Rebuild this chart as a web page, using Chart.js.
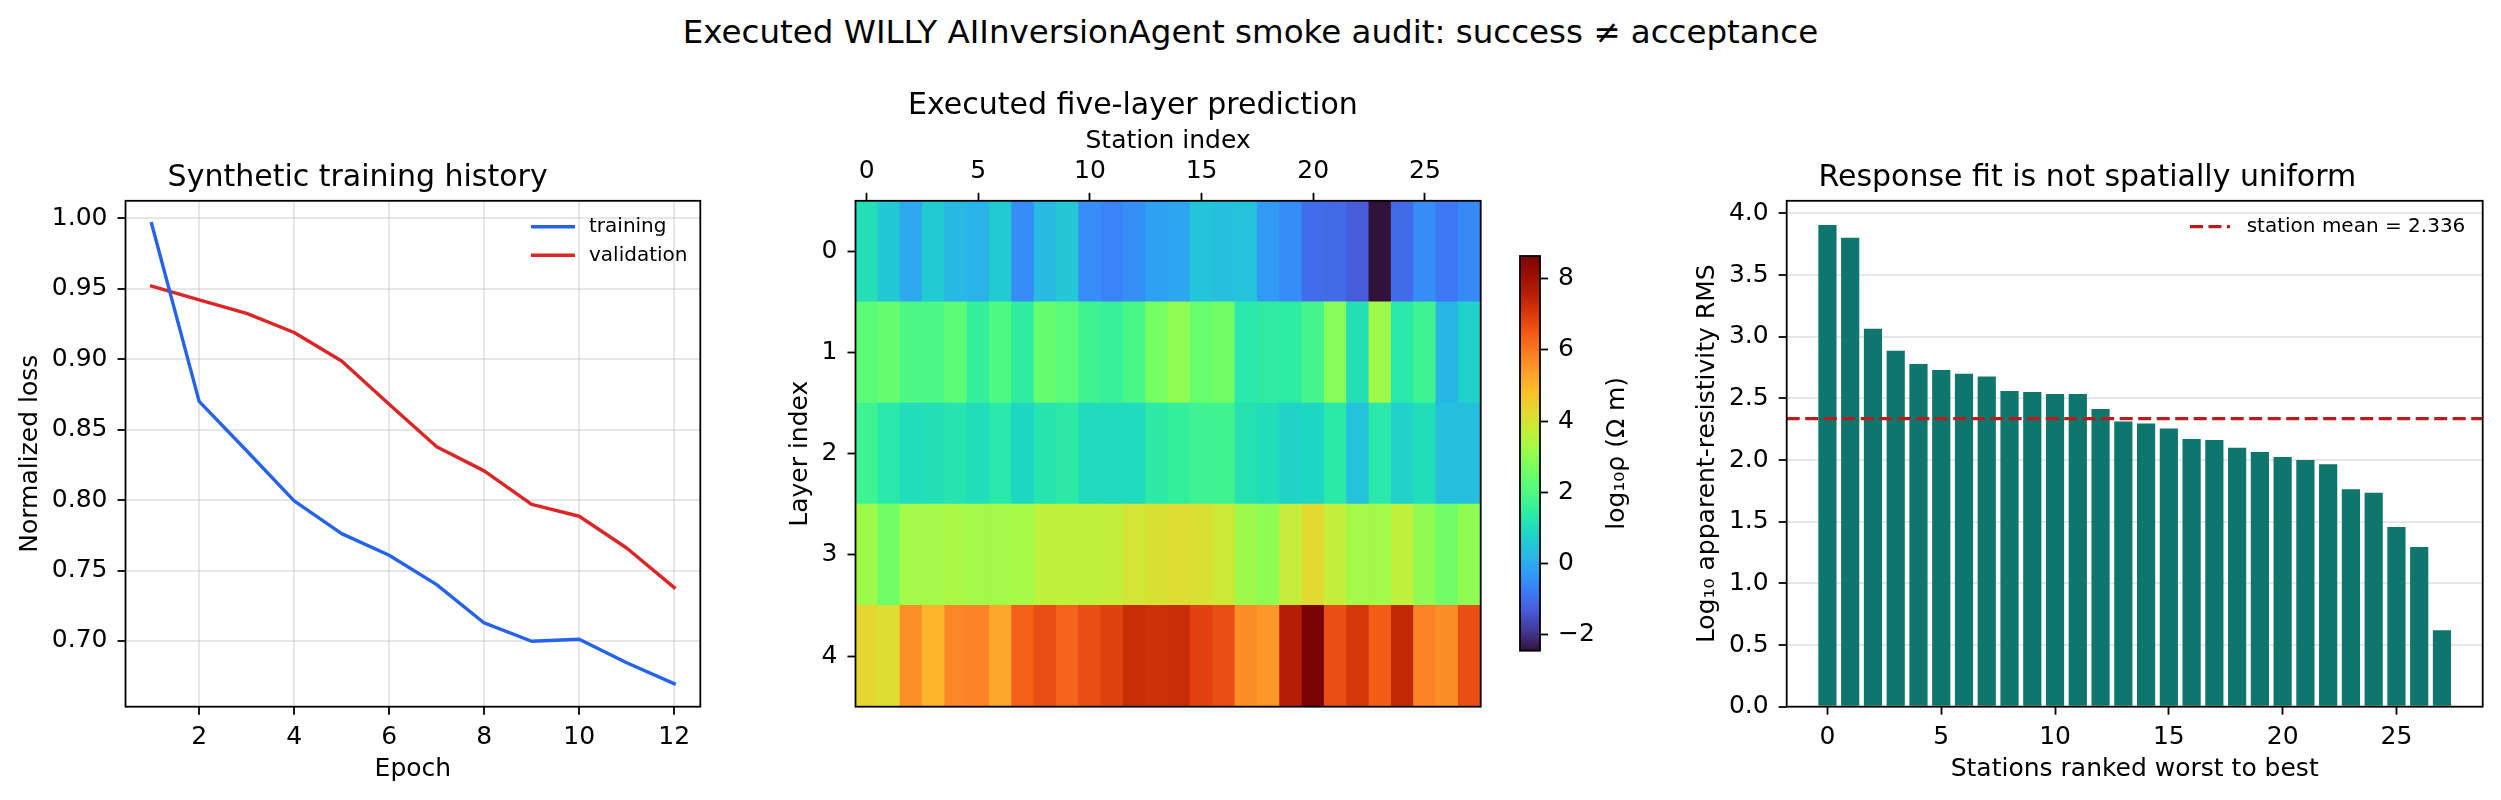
<!DOCTYPE html>
<html>
<head>
<meta charset="utf-8">
<script src="https://cdn.jsdelivr.net/npm/chart.js@4.4.1/dist/chart.umd.min.js"></script>
<style>
  html, body { margin: 0; padding: 0; background: #ffffff; }
  #fig { position: relative; width: 2501px; height: 800px; background: #ffffff; overflow: hidden;
         font-family: 'DejaVu Sans', sans-serif; color: #000; }
  .box { position: absolute; top: 0; height: 800px; }
  .box canvas { display: block; }
  #suptitle { position: absolute; left: 0; top: 16px; width: 2501px; text-align: center;
              font-size: 32.5px; line-height: 1; white-space: nowrap; }
</style>
</head>
<body>
<div id="fig">
  <div id="suptitle">Executed WILLY AIInversionAgent smoke audit: success ≠ acceptance</div>
  <div class="box" style="left:0px;width:760px"><canvas id="cLoss" width="760" height="800"></canvas></div>
  <div class="box" style="left:760px;width:740px"><canvas id="cHeat" width="740" height="800"></canvas></div>
  <div class="box" style="left:1500px;width:200px"><canvas id="cBar" width="200" height="800"></canvas></div>
  <div class="box" style="left:1660px;width:841px"><canvas id="cRms" width="841" height="800"></canvas></div>
</div>
<script>
// ------------------------- DATA -------------------------
const epochs = [1, 2, 3, 4, 5, 6, 7, 8, 9, 10, 11, 12];
const trainingLoss   = [0.996, 0.870, 0.835, 0.7994, 0.7762, 0.7608, 0.7400, 0.7128, 0.6998, 0.7012, 0.6846, 0.6697];
const validationLoss = [0.9518, 0.9421, 0.9324, 0.9189, 0.8986, 0.8680, 0.8378, 0.8207, 0.7970, 0.7885, 0.7660, 0.7379];
const epochTicks = [2, 4, 6, 8, 10, 12];
const lossTicks = [0.70, 0.75, 0.80, 0.85, 0.90, 0.95, 1.00];

const stationIndex = [0,1,2,3,4,5,6,7,8,9,10,11,12,13,14,15,16,17,18,19,20,21,22,23,24,25,26,27];
const layerIndex = [0, 1, 2, 3, 4];
// log10 resistivity per layer (rows) and station (columns)
const layer0 = [1.10, 0.55, -0.02, 0.60, 0.23, 0.16, 0.60, -0.52, 0.29, 0.54, -0.49, -0.68, -0.46, -0.18, -0.07, 0.49, 0.38, 0.43, -0.29, -0.51, -1.02, -1.05, -1.30, -2.45, -1.05, -0.50, -0.84, -0.55];
const layer1 = [2.21, 2.37, 1.93, 1.95, 2.20, 1.54, 1.99, 1.46, 2.37, 2.18, 1.71, 1.60, 1.91, 2.65, 3.02, 2.43, 2.56, 1.32, 1.43, 1.41, 1.82, 2.87, 1.10, 3.21, 1.32, 1.71, 0.21, 0.77];
const layer2 = [1.71, 1.32, 1.04, 1.10, 1.21, 1.04, 1.32, 0.88, 1.21, 1.38, 0.99, 0.99, 0.97, 1.38, 1.54, 1.71, 1.74, 1.18, 1.04, 0.82, 0.88, 1.35, 0.43, 1.32, 0.77, 1.04, 0.38, 0.38];
const layer3 = [3.21, 2.56, 3.26, 3.26, 3.37, 3.27, 3.27, 3.32, 3.65, 3.65, 3.66, 3.74, 3.96, 4.04, 4.20, 4.09, 3.90, 3.21, 2.98, 3.78, 4.26, 3.74, 3.27, 3.27, 3.68, 2.98, 2.54, 2.98];
const layer4 = [4.30, 4.18, 5.63, 4.99, 5.75, 5.80, 5.22, 6.38, 6.67, 6.31, 6.67, 6.90, 7.27, 7.20, 7.27, 6.87, 6.68, 5.64, 5.51, 7.59, 8.64, 6.68, 7.07, 6.42, 7.36, 5.80, 5.64, 6.67];
const stationTicks = [0, 5, 10, 15, 20, 25];
const colorbarTicks = [-2, 0, 2, 4, 6, 8];

const rankedStations = [0,1,2,3,4,5,6,7,8,9,10,11,12,13,14,15,16,17,18,19,20,21,22,23,24,25,26,27];
const stationRMS = [3.907, 3.802, 3.064, 2.886, 2.779, 2.730, 2.700, 2.678, 2.560, 2.551, 2.535, 2.535, 2.414, 2.313, 2.296, 2.255, 2.170, 2.162, 2.099, 2.066, 2.025, 2.000, 1.967, 1.764, 1.734, 1.457, 1.295, 0.620];
const meanRMS = 2.336;
const rankTicks = [0, 5, 10, 15, 20, 25];
const rmsTicks = [0, 0.5, 1.0, 1.5, 2.0, 2.5, 3.0, 3.5, 4.0];

// ------------------------- STYLE -------------------------
const FONT = "'DejaVu Sans', sans-serif";
Chart.defaults.font.family = FONT;
Chart.defaults.color = '#000';
const GRID = 'rgba(176,176,176,0.3)';
const TICK_FONT = { size: 25, family: FONT };
const LABEL_FONT = { size: 25, family: FONT };
const TITLE_FONT = { size: 30, family: FONT, weight: 'normal', lineHeight: 1.2 };
const HEAT_TITLE_FONT = { size: 30, family: FONT, weight: 'normal', lineHeight: 1.0 };

// turbo colormap stops [t, r, g, b]
const TURBO = [
  [0.00, 48, 18, 59], [0.05, 68, 56, 150], [0.10, 72, 90, 215], [0.15, 61, 123, 247],
  [0.20, 47, 158, 245], [0.25, 38, 189, 225], [0.30, 30, 215, 195], [0.35, 45, 236, 162],
  [0.40, 78, 249, 131], [0.45, 111, 254, 103], [0.50, 150, 252, 78], [0.55, 189, 241, 58],
  [0.60, 223, 220, 50], [0.65, 249, 194, 41], [0.70, 254, 163, 44], [0.75, 251, 128, 36],
  [0.80, 244, 93, 23], [0.85, 220, 60, 12], [0.90, 184, 32, 4], [0.95, 155, 16, 2], [1.00, 122, 4, 3]
];
function turbo(t) {
  t = Math.max(0, Math.min(1, t));
  for (let i = 1; i < TURBO.length; i++) {
    if (t <= TURBO[i][0]) {
      const a = TURBO[i - 1], b = TURBO[i];
      const f = (t - a[0]) / (b[0] - a[0]);
      const c = [1, 2, 3].map(k => Math.round(a[k] + f * (b[k] - a[k])));
      return `rgb(${c[0]},${c[1]},${c[2]})`;
    }
  }
  return 'rgb(122,4,3)';
}
function autoRange(values, frac) {
  const lo = Math.min(...values), hi = Math.max(...values);
  const pad = (hi - lo) * frac;
  return { min: lo - pad, max: hi + pad };
}
const setTicks = (list) => (axis) => { axis.ticks = list.map(v => ({ value: v })); };

const framePlugin = {
  id: 'frame',
  afterDraw(chart) {
    const { ctx, chartArea: a } = chart;
    ctx.save();
    ctx.strokeStyle = '#000';
    ctx.lineWidth = 1.8;
    ctx.strokeRect(a.left, a.top, a.right - a.left, a.bottom - a.top);
    ctx.restore();
  }
};

const TICKS_ONLY = { drawOnChartArea: false, drawTicks: true, offset: false, tickLength: 8, tickColor: '#000', tickWidth: 1.8 };

function axisCommon(extra) {
  return Object.assign({
    grid: { color: GRID, lineWidth: 2, offset: false, drawTicks: true, tickLength: 8, tickColor: '#000', tickWidth: 1.8 },
    border: { display: false },
    ticks: { font: TICK_FONT, color: '#000', maxRotation: 0, minRotation: 0, autoSkip: false },
  }, extra);
}

// ------------------------- PANEL 1: loss -------------------------
const lossX = autoRange(epochs, 0.05);
const lossY = autoRange(trainingLoss.concat(validationLoss), 0.05);
new Chart(document.getElementById('cLoss'), {
  type: 'line',
  data: {
    datasets: [
      { label: 'training', data: epochs.map((e, i) => ({ x: e, y: trainingLoss[i] })),
        borderColor: '#2563eb', borderWidth: 3.4, pointRadius: 0, fill: false, tension: 0,
        borderJoinStyle: 'round', borderCapStyle: 'square' },
      { label: 'validation', data: epochs.map((e, i) => ({ x: e, y: validationLoss[i] })),
        borderColor: '#dc2626', borderWidth: 3.4, pointRadius: 0, fill: false, tension: 0,
        borderJoinStyle: 'round', borderCapStyle: 'square' }
    ]
  },
  options: {
    responsive: false, animation: false, devicePixelRatio: 1,
    layout: { padding: { left: 15, right: 59.7, top: 0, bottom: 15.3 } },
    plugins: {
      legend: { display: false }, tooltip: { enabled: false },
      title: { display: true, text: 'Synthetic training history', font: TITLE_FONT, color: '#000',
               padding: { top: 160.6, bottom: 4.2 } }
    },
    scales: {
      x: axisCommon({ type: 'linear', min: lossX.min, max: lossX.max, afterBuildTicks: setTicks(epochTicks),
        afterFit: (s) => { s.height = 78; },
        ticks: { font: TICK_FONT, color: '#000', padding: 8, maxRotation: 0, minRotation: 0, autoSkip: false },
        title: { display: true, text: 'Epoch', font: LABEL_FONT, color: '#000', padding: 0 } }),
      y: axisCommon({ type: 'linear', min: lossY.min, max: lossY.max, afterBuildTicks: setTicks(lossTicks),
        afterFit: (s) => { s.width = 110.5; },
        ticks: { font: TICK_FONT, color: '#000', padding: 10, autoSkip: false, callback: (v) => Number(v).toFixed(2) },
        title: { display: true, text: 'Normalized loss', font: LABEL_FONT, color: '#000', padding: 0 } })
    }
  },
  plugins: [framePlugin, {
    id: 'lossLegend',
    afterDraw(chart) {
      const { ctx } = chart;
      const items = chart.data.datasets.map((d, i) => ({ label: d.label, color: d.borderColor, y: 226.7 + i * 28.6 }));
      ctx.save();
      ctx.font = `20px ${FONT}`;
      ctx.textBaseline = 'middle';
      ctx.textAlign = 'left';
      items.forEach(it => {
        ctx.strokeStyle = it.color; ctx.lineWidth = 3.4; ctx.lineCap = 'butt';
        ctx.beginPath(); ctx.moveTo(531, it.y); ctx.lineTo(575, it.y); ctx.stroke();
        ctx.fillStyle = '#000'; ctx.fillText(it.label, 589, it.y);
      });
      ctx.restore();
    }
  }]
});

// ------------------------- PANEL 2: heatmap -------------------------
const heatLayers = [layer0, layer1, layer2, layer3, layer4];
const allHeat = [].concat(...heatLayers);
const vmin = Math.min(...allHeat), vmax = Math.max(...allHeat);
const heatCells = [], heatColors = [];
layerIndex.forEach((l, li) => {
  stationIndex.forEach((s, si) => {
    heatCells.push({ x: s, y: [l - 0.5, l + 0.5] });
    heatColors.push(turbo((heatLayers[li][si] - vmin) / (vmax - vmin)));
  });
});
new Chart(document.getElementById('cHeat'), {
  type: 'bar',
  data: { datasets: [{ label: 'log10 rho', data: heatCells, backgroundColor: heatColors, borderWidth: 0,
                       barPercentage: 1, categoryPercentage: 1, inflateAmount: 0.5 }] },
  options: {
    responsive: false, animation: false, devicePixelRatio: 1,
    layout: { padding: { left: 25, right: 19.3, top: 0, bottom: 93.3 } },
    plugins: {
      legend: { display: false }, tooltip: { enabled: false },
      title: { display: true, text: 'Executed five-layer prediction', font: HEAT_TITLE_FONT, color: '#000',
               padding: { top: 91.5, bottom: 4.5 } }
    },
    scales: {
      x: axisCommon({ type: 'linear', position: 'top', offset: false, min: stationIndex[0] - 0.5,
        max: stationIndex[stationIndex.length - 1] + 0.5, afterBuildTicks: setTicks(stationTicks),
        afterFit: (s) => { s.height = 74.8; },
        grid: TICKS_ONLY,
        ticks: { font: TICK_FONT, color: '#000', padding: 6, maxRotation: 0, minRotation: 0, autoSkip: false },
        title: { display: true, text: 'Station index', font: LABEL_FONT, color: '#000', padding: 0 } }),
      y: axisCommon({ type: 'linear', reverse: true, min: layerIndex[0] - 0.5, max: layerIndex[layerIndex.length - 1] + 0.5,
        afterBuildTicks: setTicks(layerIndex),
        afterFit: (s) => { s.width = 70.5; },
        grid: TICKS_ONLY,
        ticks: { font: TICK_FONT, color: '#000', padding: 10, autoSkip: false },
        title: { display: true, text: 'Layer index', font: LABEL_FONT, color: '#000', padding: 0 } })
    }
  },
  plugins: [framePlugin]
});

// ------------------------- colorbar -------------------------
new Chart(document.getElementById('cBar'), {
  type: 'bar',
  data: {
    labels: ['log10 rho'],
    datasets: [{
      data: [[vmin, vmax]], borderWidth: 0, barPercentage: 1, categoryPercentage: 1, inflateAmount: 0,
      backgroundColor: (c) => {
        const chart = c.chart;
        const { ctx, chartArea, scales } = chart;
        if (!chartArea) return 'rgba(0,0,0,0)';
        const y0 = scales.y.getPixelForValue(vmin), y1 = scales.y.getPixelForValue(vmax);
        const g = ctx.createLinearGradient(0, y0, 0, y1);
        for (let i = 0; i <= 100; i++) g.addColorStop(i / 100, turbo(i / 100));
        return g;
      }
    }]
  },
  options: {
    responsive: false, animation: false, devicePixelRatio: 1,
    layout: { padding: { left: 20, right: 100, top: 256, bottom: 149.3 } },
    plugins: { legend: { display: false }, tooltip: { enabled: false }, title: { display: false } },
    scales: {
      x: { display: false, offset: true },
      y: axisCommon({ type: 'linear', position: 'right', min: vmin, max: vmax, afterBuildTicks: setTicks(colorbarTicks),
        afterFit: (s) => { s.width = 60; },
        grid: TICKS_ONLY,
        ticks: { font: TICK_FONT, color: '#000', padding: 10, autoSkip: false,
                 callback: (v) => (v < 0 ? '\u2212' + Math.abs(v) : String(v)) } })
    }
  },
  plugins: [framePlugin, {
    id: 'cbarLabel',
    afterDraw(chart) {
      const { ctx, chartArea: a } = chart;
      ctx.save();
      ctx.translate(117.7, (a.top + a.bottom) / 2);
      ctx.rotate(-Math.PI / 2);
      ctx.font = `25px ${FONT}`;
      ctx.fillStyle = '#000';
      ctx.textAlign = 'center';
      ctx.textBaseline = 'middle';
      ctx.fillText('log\u2081\u2080\u03C1 (\u03A9 m)', 0, 0);
      ctx.restore();
    }
  }]
});

// ------------------------- PANEL 3: RMS bars -------------------------
const barLo = rankedStations[0] - 0.4, barHi = rankedStations[rankedStations.length - 1] + 0.4;
const barPad = (barHi - barLo) * 0.05;
new Chart(document.getElementById('cRms'), {
  type: 'bar',
  data: { datasets: [{ label: 'RMS', data: rankedStations.map((r, i) => ({ x: r, y: stationRMS[i] })),
                       backgroundColor: '#0f766e', borderWidth: 0, barPercentage: 0.8, categoryPercentage: 1, inflateAmount: 0 }] },
  options: {
    responsive: false, animation: false, devicePixelRatio: 1,
    layout: { padding: { left: 32, right: 18.3, top: 0, bottom: 15.3 } },
    plugins: {
      legend: { display: false }, tooltip: { enabled: false },
      title: { display: true, text: 'Response fit is not spatially uniform', font: TITLE_FONT, color: '#000',
               padding: { top: 160.6, bottom: 4.2 } }
    },
    scales: {
      x: axisCommon({ type: 'linear', offset: false, min: barLo - barPad, max: barHi + barPad,
        afterBuildTicks: setTicks(rankTicks), afterFit: (s) => { s.height = 78; },
        grid: TICKS_ONLY,
        ticks: { font: TICK_FONT, color: '#000', padding: 8, maxRotation: 0, minRotation: 0, autoSkip: false },
        title: { display: true, text: 'Stations ranked worst to best', font: LABEL_FONT, color: '#000', padding: 0 } }),
      y: axisCommon({ type: 'linear', z: 1, min: 0, max: Math.max(...stationRMS) * 1.05,
        afterBuildTicks: setTicks(rmsTicks), afterFit: (s) => { s.width = 94.7; },
        grid: { color: (c) => (c.tick && c.tick.value === 0 ? 'rgba(0,0,0,0)' : GRID), lineWidth: 2, offset: false,
                drawTicks: true, tickLength: 8, tickColor: '#000', tickWidth: 1.8 },
        ticks: { font: TICK_FONT, color: '#000', padding: 10, autoSkip: false, callback: (v) => Number(v).toFixed(1) },
        title: { display: true, text: 'Log\u2081\u2080 apparent-resistivity RMS', font: LABEL_FONT, color: '#000', padding: 0 } })
    }
  },
  plugins: [framePlugin, {
    id: 'meanLine',
    afterDatasetsDraw(chart) {
      const { ctx, chartArea: a, scales } = chart;
      const y = scales.y.getPixelForValue(meanRMS);
      ctx.save();
      ctx.strokeStyle = '#b91c1c'; ctx.lineWidth = 3.2; ctx.setLineDash([13, 5.5]);
      ctx.beginPath(); ctx.moveTo(a.left, y); ctx.lineTo(a.right, y); ctx.stroke();
      ctx.restore();
    },
    afterDraw(chart) {
      const { ctx } = chart;
      const y = 226.7;
      ctx.save();
      ctx.strokeStyle = '#b91c1c'; ctx.lineWidth = 3.2; ctx.setLineDash([13, 5.5]);
      ctx.beginPath(); ctx.moveTo(530, y); ctx.lineTo(570, y); ctx.stroke();
      ctx.setLineDash([]);
      ctx.font = `20px ${FONT}`; ctx.fillStyle = '#000'; ctx.textBaseline = 'middle'; ctx.textAlign = 'left';
      ctx.fillText('station mean = ' + meanRMS.toFixed(3), 586.7, y);
      ctx.restore();
    }
  }]
});
</script>
</body>
</html>
